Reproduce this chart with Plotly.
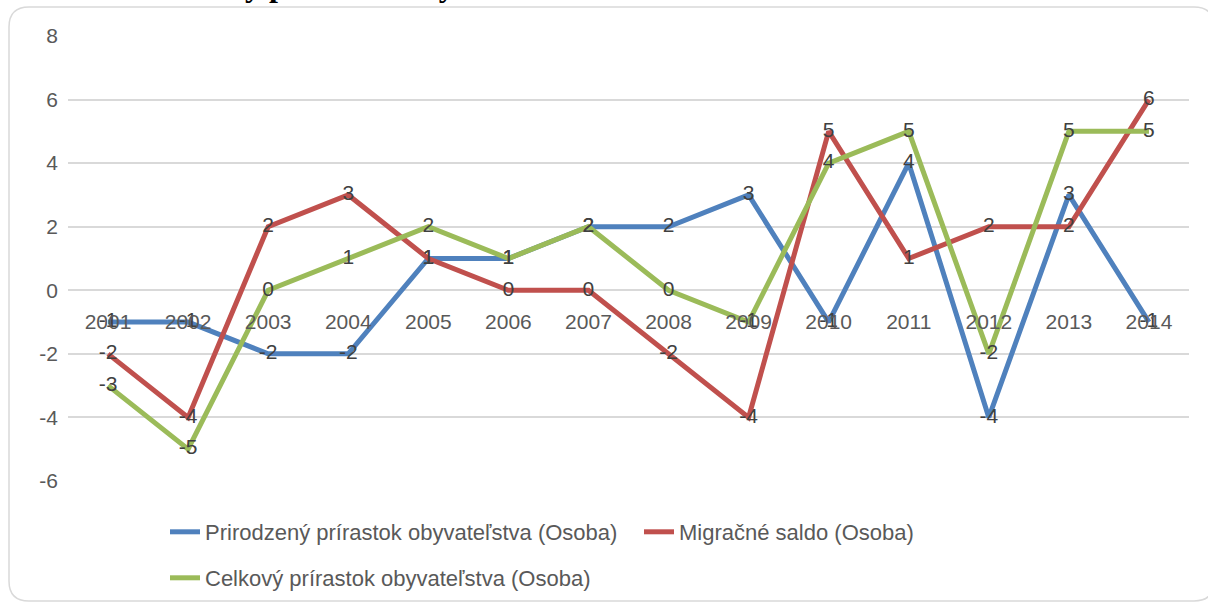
import plotly.graph_objects as go

years = ["2001", "2002", "2003", "2004", "2005", "2006", "2007",
         "2008", "2009", "2010", "2011", "2012", "2013", "2014"]
prirodzeny = [-1, -1, -2, -2, 1, 1, 2, 2, 3, -1, 4, -4, 3, -1]
migracne = [-2, -4, 2, 3, 1, 0, 0, -2, -4, 5, 1, 2, 2, 6]
celkovy = [-3, -5, 0, 1, 2, 1, 2, 0, -1, 4, 5, -2, 5, 5]
y_ticks = [-6, -4, -2, 0, 2, 4, 6, 8]
y_tick_labels = ["-6", "-4", "-2", "0", "2", "4", "6", "8"]

names = ["Prirodzený prírastok obyvateľstva (Osoba)",
         "Migračné saldo (Osoba)",
         "Celkový prírastok obyvateľstva (Osoba)"]
colors = ["#4F81BD", "#C0504D", "#9BBB59"]
series = [prirodzeny, migracne, celkovy]
legends = ["legend", "legend3", "legend2"]

FONT = "Liberation Sans"
W, H = 1208, 603
L, R, T, B = 68, 19, 36, 122
PW, PH = W - L - R, H - T - B


def px(x):
    return (x - L) / PW


def py(y):
    return 1 - (y - T) / PH


fig = go.Figure()
for name, col, vals, lg in zip(names, colors, series, legends):
    fig.add_trace(go.Scatter(
        x=years, y=vals, name=name, mode="lines",
        line=dict(color=col, width=5),
        legend=lg, hoverinfo="x+y+name",
    ))
for name, vals in zip(names, series):
    fig.add_trace(go.Scatter(
        x=years, y=vals, mode="text", text=[str(v) for v in vals],
        textposition="middle center",
        textfont=dict(family=FONT, size=21, color="#404040"),
        showlegend=False, hoverinfo="skip",
    ))

# rounded chart-area border
x0, y0, x1, y1, r = 9, 7, 1214, 601, 20
path = (f"M {px(x0 + r)},{py(y0)} L {px(x1 - r)},{py(y0)} "
        f"Q {px(x1)},{py(y0)} {px(x1)},{py(y0 + r)} "
        f"L {px(x1)},{py(y1 - r)} Q {px(x1)},{py(y1)} {px(x1 - r)},{py(y1)} "
        f"L {px(x0 + r)},{py(y1)} Q {px(x0)},{py(y1)} {px(x0)},{py(y1 - r)} "
        f"L {px(x0)},{py(y0 + r)} Q {px(x0)},{py(y0)} {px(x0 + r)},{py(y0)} Z")
fig.add_shape(type="path", path=path, xref="paper", yref="paper",
              line=dict(color="#D9D9D9", width=1.5), layer="below")

# cut-off title above the chart (only descenders visible)
fig.add_annotation(
    text="<b>Celkový prírastok obyvateľstva</b>",
    xref="paper", yref="paper", x=px(147), y=py(5),
    xanchor="left", yanchor="bottom", showarrow=False,
    font=dict(family="Liberation Serif", size=32, color="#000000"),
)

legend_style = dict(orientation="h", xanchor="left", yanchor="middle",
                    font=dict(family=FONT, size=22, color="#595959"),
                    bgcolor="rgba(0,0,0,0)")

fig.update_layout(
    width=W, height=H,
    margin=dict(l=L, r=R, t=T, b=B, autoexpand=False),
    paper_bgcolor="white", plot_bgcolor="white",
    font=dict(family=FONT, color="#595959"),
    legend=dict(x=px(165), y=py(532), **legend_style),
    legend3=dict(x=px(639), y=py(532), **legend_style),
    legend2=dict(x=px(165), y=py(578), **legend_style),
    xaxis=dict(type="category", range=[-0.5, 13.5],
               anchor="free", position=6 / 14,
               showgrid=False, showline=False, zeroline=False,
               ticks="", ticklabelstandoff=17,
               tickfont=dict(family=FONT, size=21, color="#595959")),
    yaxis=dict(range=[-6, 8], tickvals=y_ticks, ticktext=y_tick_labels,
               showgrid=True, gridcolor="#D9D9D9", gridwidth=1.5,
               zeroline=False, showline=False, ticks="",
               ticklabelstandoff=9,
               tickfont=dict(family=FONT, size=21, color="#595959")),
)

fig.write_html("out.html",
               config={"displayModeBar": False},
               post_script="document.body.style.margin='0px';")
